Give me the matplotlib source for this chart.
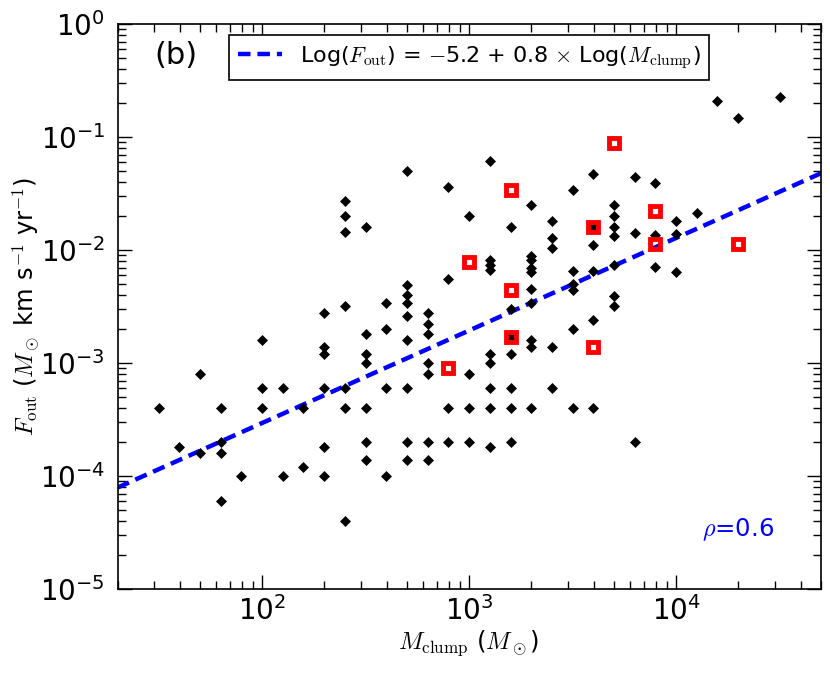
import matplotlib
matplotlib.use("Agg")
import matplotlib.pyplot as plt
import numpy as np

plt.rcParams['font.family'] = ['DejaVu Sans']
plt.rcParams['mathtext.fontset'] = 'cm'
plt.rcParams['lines.scale_dashes'] = False

# clump mass (Msun) and outflow force for the whole sample
m_all = [31.6, 63.1, 100, 100, 126, 200, 251, 39.8, 50.1, 63.1, 63.1, 79.4, 63.1,
         126, 158, 158, 200, 200, 251, 251, 316, 316, 316,
         398, 501, 1259, 1585, 2512, 794, 1000, 1259, 1585, 1995, 3162, 3981,
         501, 631, 794, 1000, 1259, 1585, 6310, 501, 631, 398,
         251, 251, 251, 316, 251, 200, 100, 200, 200, 316, 316, 316, 50.1,
         501, 1259, 794, 3981, 3162, 1995, 5012, 5012, 5012, 5012, 3981, 3981,
         1000, 2512, 1585, 2512, 2512, 1259, 1259, 1259, 1995, 1995, 1995, 1995,
         794, 501, 501, 501, 501, 501, 398, 398, 631, 631, 631, 631, 631,
         1995, 1995, 1585, 3162, 3162, 3162, 3981, 5012, 5012, 5012, 3162, 3981,
         1585, 1585, 1995, 1995, 2512, 1259, 1259, 1000,
         6310, 7943, 6310, 7943, 10000, 10000, 12589, 7943, 10000,
         15849, 19953, 31623]
f_all = [4.0e-4, 4.0e-4, 6.0e-4, 4.0e-4, 6.0e-4, 6.0e-4, 6.0e-4, 1.8e-4, 1.6e-4, 2.0e-4, 1.6e-4, 1.0e-4, 6.0e-5,
         1.0e-4, 1.2e-4, 4.0e-4, 1.8e-4, 1.0e-4, 4.0e-4, 4.0e-5, 4.0e-4, 2.0e-4, 1.4e-4,
         6e-4, 6e-4, 6e-4, 6e-4, 6e-4, 4e-4, 4e-4, 4e-4, 4e-4, 4e-4, 4e-4, 4e-4,
         2e-4, 2e-4, 2e-4, 2e-4, 1.8e-4, 2e-4, 2e-4, 1.4e-4, 1.4e-4, 1e-4,
         0.027, 0.020, 0.0145, 0.016, 0.0032, 0.0028, 0.0016, 0.0014, 0.0012, 0.0018, 0.0012, 0.0010, 8.0e-4,
         0.050, 0.061, 0.036, 0.047, 0.034, 0.025, 0.025, 0.020, 0.016, 0.0134, 0.016, 0.011,
         0.020, 0.018, 0.016, 0.0127, 0.0105, 0.0082, 0.0074, 0.0067, 0.0089, 0.0082, 0.0069, 0.0064,
         0.0055, 0.0049, 0.0040, 0.0034, 0.0026, 0.0016, 0.0034, 0.0020, 0.0028, 0.0022, 0.0018, 0.0010, 0.0008,
         0.0045, 0.0034, 0.0030, 0.0065, 0.0050, 0.0044, 0.0065, 0.0074, 0.0039, 0.0032, 0.0020, 0.0024,
         0.0017, 0.0012, 0.0016, 0.0014, 0.0014, 0.0012, 0.0010, 0.0008,
         0.044, 0.039, 0.0142, 0.0135, 0.018, 0.014, 0.0215, 0.0071, 0.0064,
         0.21, 0.147, 0.225]

# highlighted sources (red squares)
m_red = [1585, 3981, 1000, 1585, 1585, 3981, 794, 7943, 7943, 19953, 5012]
f_red = [0.0343, 0.016, 0.0078, 0.0044, 0.0017, 0.0014, 0.0009, 0.022, 0.0114, 0.0114, 0.089]

# fitted relation Log(F) = a + b Log(M)
fit_a = -5.165
fit_b = 0.818
rho = 0.6

fig = plt.figure(figsize=(8.3, 6.74), dpi=100)
ax = fig.add_axes([0.1416, 0.1257, 0.8472, 0.8387])

mm = np.logspace(np.log10(20), np.log10(5e4), 200)
ax.plot(mm, 10**(fit_a + fit_b*np.log10(mm)), color='blue', lw=3.2, dashes=(9, 5),
        label=r'Log($F_{\rm out}$) = $-$5.2 + 0.8 $\times$ Log($M_{\rm clump}$)', zorder=2)
ax.plot(m_all, f_all, 'D', color='black', ms=5.2, mew=0.5, ls='none', zorder=3)
ax.plot(m_red, f_red, 's', mfc='none', mec='red', ms=7.7, mew=3.5, ls='none', zorder=4)

ax.set_xscale('log')
ax.set_yscale('log')
ax.set_xlim(20, 5e4)
ax.set_ylim(1e-5, 1)

for sp in ax.spines.values():
    sp.set_linewidth(1.2)
ax.tick_params(which='both', direction='in', top=True, right=True, width=1.0)
ax.tick_params(which='major', length=10, labelsize=20)
ax.tick_params(which='minor', length=5.5)
ax.tick_params(axis='x', which='major', pad=5)
ax.tick_params(axis='y', which='major', pad=9)

ax.set_xlabel(r'$M_{\rm clump}$ ($M_\odot$)', fontsize=17.5)
ax.set_ylabel(r'$F_{\rm out}$ ($M_\odot$ km s$^{-1}$ yr$^{-1}$)', fontsize=17.5)
ax.xaxis.set_label_coords(0.5, -0.07)
ax.yaxis.set_label_coords(-0.108, 0.5)

ax.text(0.083, 0.945, '(b)', transform=ax.transAxes, fontsize=22, ha='center', va='center')
ax.text(0.934, 0.105, r'$\rho$=%.1f' % rho, transform=ax.transAxes, fontsize=17.5,
        color='blue', ha='right', va='center')

leg = ax.legend(loc='upper center', fontsize=16, fancybox=False, framealpha=1,
                edgecolor='black', handlelength=2, handletextpad=0.8)
leg.get_frame().set_linewidth(1.2)

fig.savefig('out.png', dpi=100)
